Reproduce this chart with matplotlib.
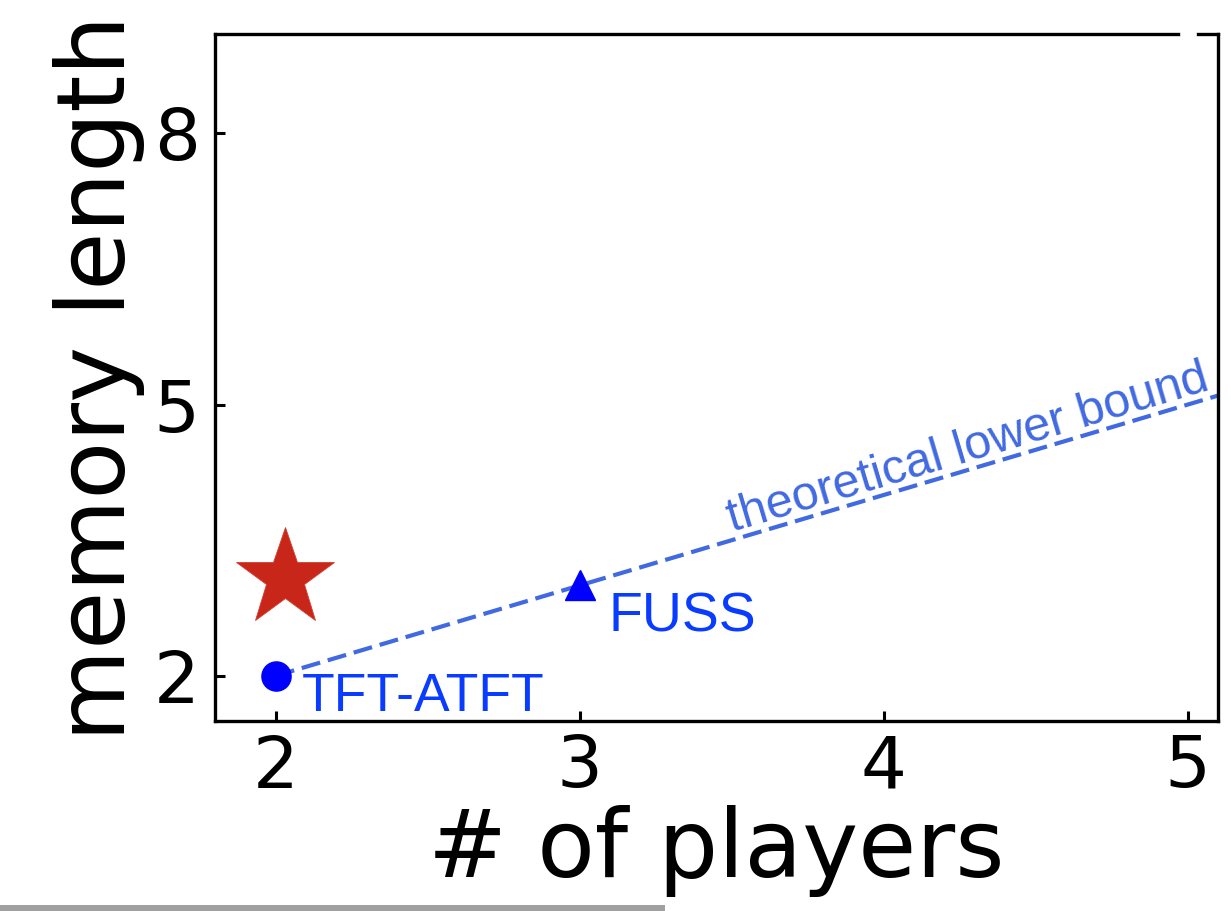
import matplotlib
matplotlib.use("Agg")
import matplotlib.pyplot as plt
from matplotlib.patches import Rectangle

# data
players_bound = [2, 5.1]
memory_bound = [2, 5.1]
tft_point = (2, 2)
fuss_point = (3, 3)
ours_point = (2.03, 3.08)
hidden_point = (5, 9.1)
xticks = [2, 3, 4, 5]
yticks = [2, 5, 8]

fig = plt.figure(figsize=(12.31, 9.11), dpi=100)
ax = fig.add_axes([215/1231, 1-721/911, (1218-215)/1231, (721-34)/911])

bound_color = '#4169E1'
ax.plot(players_bound, memory_bound, linestyle='--', color=bound_color, lw=3.0,
        dashes=(4.6, 1.9), zorder=2)
ax.plot(*tft_point, marker='o', color='blue', markersize=21, zorder=3)
ax.plot(*fuss_point, marker='^', color='blue', markersize=22, zorder=3)
ax.plot(*ours_point, marker='*', color='#C9261A', markersize=74, zorder=3,
        markeredgecolor='#D04030', markeredgewidth=0.6)
ax.plot(*hidden_point, marker='o', color='white', markersize=11, clip_on=False, zorder=5)

label_font = 'Liberation Sans'
ax.text(2.085, 1.61, 'TFT-ATFT', color='#0A3CFF', fontsize=38.5, family=label_font,
        ha='left', va='baseline')
ax.text(3.095, 2.49, 'FUSS', color='#0A3CFF', fontsize=40, family=label_font,
        ha='left', va='baseline')
ax.text(3.50, 3.59, 'theoretical lower bound', color=bound_color, fontsize=34.8,
        family=label_font, ha='left', va='baseline', rotation=45,
        rotation_mode='anchor', transform_rotates_text=True)

ax.set_xlim(1.8, 5.1)
ax.set_ylim(1.5, 9.1)
ax.set_xticks(xticks)
ax.set_yticks(yticks)
ax.tick_params(axis='both', direction='in', length=7.5, width=2.2, labelsize=52)
ax.tick_params(axis='x', pad=9)
ax.tick_params(axis='y', pad=11)
for s in ax.spines.values():
    s.set_linewidth(2.4)

ax.set_xlabel('# of players', fontsize=68, labelpad=2)
ax.set_ylabel('memory length', fontsize=68, labelpad=6)

fig.add_artist(Rectangle((0, 0), 665/1231, 6/911, transform=fig.transFigure,
                         facecolor='#a0a0a0', edgecolor='none'))

fig.savefig('out.png', dpi=100)
